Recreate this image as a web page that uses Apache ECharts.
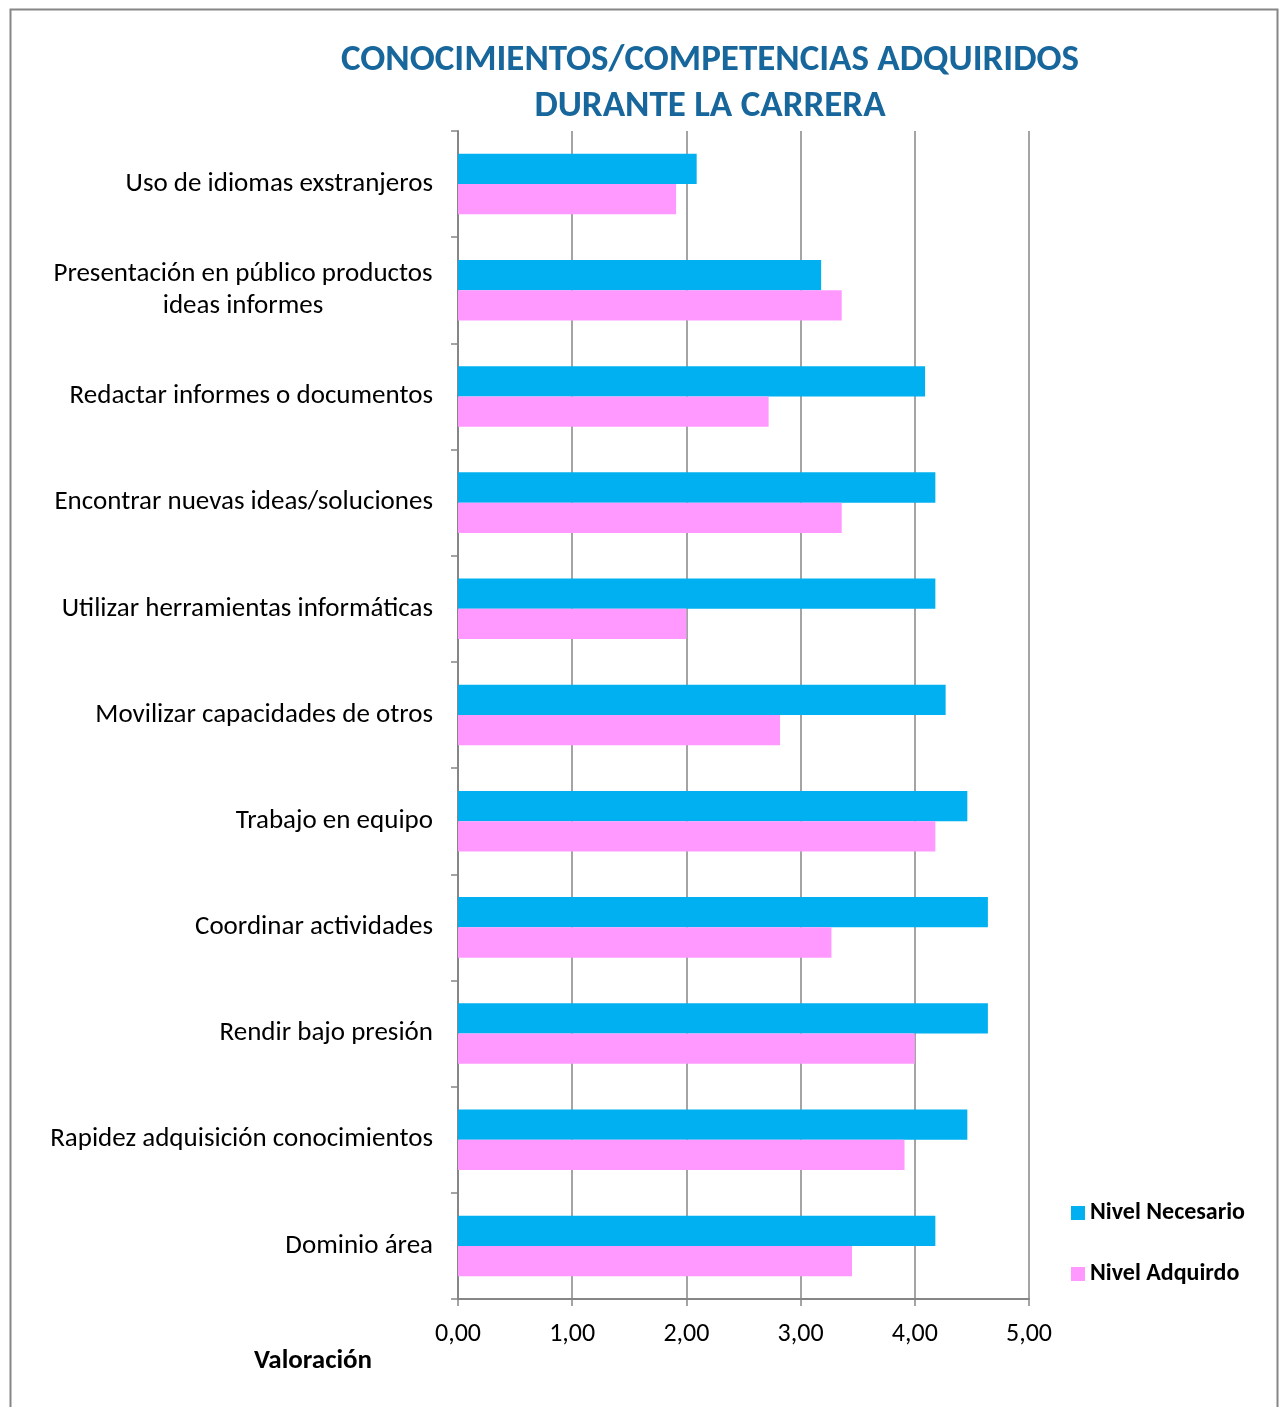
<!DOCTYPE html>
<html><head><meta charset="utf-8">
<script src="https://cdn.jsdelivr.net/npm/echarts@6/dist/echarts.min.js"></script>
<style>html,body{margin:0;padding:0;background:#fff}#c{width:1281px;height:1407px}</style>
</head><body><div id="c"></div>
<script>
// categories, bottom to top as drawn on the axis
const categories = [
  'Dominio área',
  'Rapidez adquisición conocimientos',
  'Rendir bajo presión',
  'Coordinar actividades',
  'Trabajo en equipo',
  'Movilizar capacidades de otros',
  'Utilizar herramientas informáticas',
  'Encontrar nuevas ideas/soluciones',
  'Redactar informes o documentos',
  'Presentación en público productos\nideas informes',
  'Uso de idiomas exstranjeros'
];
const nivelNecesario = [4.18, 4.46, 4.64, 4.64, 4.46, 4.27, 4.18, 4.18, 4.09, 3.18, 2.09];
const nivelAdquirido = [3.45, 3.91, 4.00, 3.27, 4.18, 2.82, 2.00, 3.36, 2.72, 3.36, 1.91];
const xTicks = [0, 1, 2, 3, 4, 5];

const FONT = 'Carlito, Lato, "Open Sans", sans-serif';
const LBL = 27;
const cv = document.createElement('canvas').getContext('2d');
cv.font = LBL + 'px ' + FONT;

const chart = echarts.init(document.getElementById('c'));
chart.setOption({
  animation: false,
  backgroundColor: '#fff',
  grid: { left: 458, right: 252, top: 131, bottom: 108 },
  legend: {
    orient: 'vertical', left: 1066, top: 1196,
    data: ['Nivel Necesario', 'Nivel Adquirdo'],
    itemWidth: 14, itemHeight: 14, itemGap: 37,
    icon: 'rect',
    textStyle: { fontFamily: FONT, fontSize: 24, fontWeight: 'bold', color: '#000' }
  },
  xAxis: {
    type: 'value', min: xTicks[0], max: xTicks[xTicks.length - 1], interval: 1,
    axisLine: { show: true, lineStyle: { color: '#868686', width: 2 } },
    axisTick: { show: true, length: 7, lineStyle: { color: '#868686', width: 1.5 } },
    splitLine: { show: true, lineStyle: { color: '#868686', width: 1.5 } },
    axisLabel: {
      margin: 22, color: '#000', fontFamily: FONT, fontSize: 26,
      formatter: v => v.toFixed(2).replace('.', ',')
    }
  },
  yAxis: {
    type: 'category', data: categories,
    axisLine: { show: true, lineStyle: { color: '#868686', width: 2 } },
    axisTick: { show: true, length: 7, alignWithLabel: false, lineStyle: { color: '#868686', width: 1.5 } },
    splitLine: { show: false },
    axisLabel: {
      margin: 25, color: '#000', fontFamily: FONT, fontSize: LBL, lineHeight: 32,
      formatter: function (v) {
        const lines = v.split('\n');
        if (lines.length === 1) return v;
        return lines.map(l => '{c|' + l + '}').join('\n');
      },
      rich: {
        c: { fontFamily: FONT, fontSize: LBL, lineHeight: 32, color: '#000', align: 'center',
             width: Math.ceil(cv.measureText('Presentación en público productos').width) }
      }
    }
  },
  series: [
    { name: 'Nivel Necesario', type: 'bar', data: nivelNecesario, itemStyle: { color: '#00B0F0' },
      barGap: '0%', barCategoryGap: '43%' },
    { name: 'Nivel Adquirdo', type: 'bar', data: nivelAdquirido, itemStyle: { color: '#FF99FF' },
      barGap: '0%', barCategoryGap: '43%' }
  ],
  graphic: [
    { type: 'rect', left: 8, top: 7, shape: { width: 1267, height: 1420 },
      style: { fill: 'none', stroke: '#868686', lineWidth: 2 }, silent: true },
    { type: 'text', x: 710, y: 61, style: { text: 'CONOCIMIENTOS/COMPETENCIAS ADQUIRIDOS', align: 'center', verticalAlign: 'middle',
      font: 'bold 37px ' + FONT, fill: '#17679C' } },
    { type: 'text', x: 710, y: 107, style: { text: 'DURANTE LA CARRERA', align: 'center', verticalAlign: 'middle',
      font: 'bold 37px ' + FONT, fill: '#17679C' } },
    { type: 'text', x: 313, y: 1361, style: { text: 'Valoración', align: 'center', verticalAlign: 'middle',
      font: 'bold 27px ' + FONT, fill: '#000' } }
  ]
});
</script></body></html>
